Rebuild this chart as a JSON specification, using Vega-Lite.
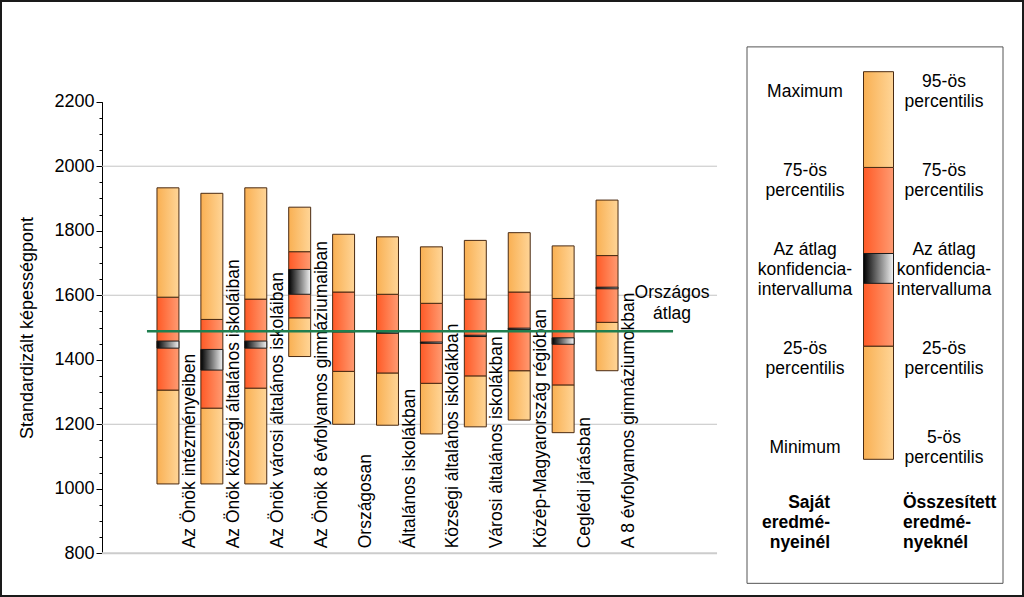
{
"$schema": "https://vega.github.io/schema/vega-lite/v6.json",
"width": 1024, "height": 597, "padding": 0, "autosize": {"type": "none"},
"background": "white",
"config": {"font": "Liberation Sans", "view": {"stroke": "#1a1a1a", "strokeWidth": 4}, "text": {"font": "Liberation Sans", "fontSize": 17.5, "color": "#000000"}},
"datasets": {
 "boxes": [
  {"cat": "Az Önök intézményeiben", "mn": 1015, "q1": 1306, "cl": 1436, "ch": 1458, "q3": 1594, "mx": 1933},
  {"cat": "Az Önök községi általános iskoláiban", "mn": 1015, "q1": 1250, "cl": 1368, "ch": 1432, "q3": 1525, "mx": 1916},
  {"cat": "Az Önök városi általános iskoláiban", "mn": 1015, "q1": 1312, "cl": 1436, "ch": 1458, "q3": 1588, "mx": 1933},
  {"cat": "Az Önök 8 évfolyamos gimnáziumaiban", "mn": 1410, "q1": 1530, "cl": 1603, "ch": 1680, "q3": 1735, "mx": 1873},
  {"cat": "Országosan", "mn": 1200, "q1": 1364, "cl": 1486, "ch": 1490, "q3": 1610, "mx": 1789},
  {"cat": "Általános iskolákban", "mn": 1197, "q1": 1359, "cl": 1482, "ch": 1486, "q3": 1603, "mx": 1781},
  {"cat": "Községi általános iskolákban", "mn": 1170, "q1": 1327, "cl": 1451, "ch": 1455, "q3": 1575, "mx": 1750},
  {"cat": "Városi általános iskolákban", "mn": 1192, "q1": 1350, "cl": 1472, "ch": 1476, "q3": 1588, "mx": 1770},
  {"cat": "Közép-Magyarország régióban", "mn": 1213, "q1": 1366, "cl": 1494, "ch": 1498, "q3": 1610, "mx": 1794},
  {"cat": "Ceglédi járásban", "mn": 1174, "q1": 1322, "cl": 1448, "ch": 1468, "q3": 1590, "mx": 1753},
  {"cat": "A 8 évfolyamos gimnáziumokban", "mn": 1366, "q1": 1516, "cl": 1620, "ch": 1625, "q3": 1723, "mx": 1895}
 ],
 "grid": [{"v": 1200}, {"v": 1600}, {"v": 2000}],
 "base": [{"v": 800}],
 "avg": [{"avg": 1488, "label": "Országos\nátlag"}],
 "legendBox": [{"mn": 0, "q1": 29.2, "cl": 45.4, "ch": 53.1, "q3": 75.3, "mx": 100}],
 "legendText": [
  {"col": "left", "level": 94.8, "t": "Maximum"},
  {"col": "right", "level": 97.4, "t": "95-ös\npercentilis"},
  {"col": "left", "level": 74.4, "t": "75-ös\npercentilis"},
  {"col": "right", "level": 74.4, "t": "75-ös\npercentilis"},
  {"col": "left", "level": 54.0, "t": "Az átlag\nkonfidencia-\nintervalluma"},
  {"col": "right", "level": 54.0, "t": "Az átlag\nkonfidencia-\nintervalluma"},
  {"col": "left", "level": 28.4, "t": "25-ös\npercentilis"},
  {"col": "right", "level": 28.4, "t": "25-ös\npercentilis"},
  {"col": "left", "level": 3.0, "t": "Minimum"},
  {"col": "right", "level": 5.4, "t": "5-ös\npercentilis"}
 ],
 "legendBoldL": [{"col": "left", "level": -11.2, "t": "Saját\neredmé-\nnyeinél"}],
 "legendBoldR": [{"col": "right", "level": -11.2, "t": "Összesített\neredmé-\nnyeknél"}]
},
"layer": [
 {
  "layer": [
   {"data": {"name": "grid"},
    "mark": {"type": "rule", "color": "#c4c4c4", "strokeWidth": 1, "xOffset": -66, "x2Offset": 110},
    "encoding": {
     "x": {"datum": "Az Önök intézményeiben", "type": "nominal", "axis": null,
       "scale": {"type": "band", "domain": ["Az Önök intézményeiben", "Az Önök községi általános iskoláiban", "Az Önök városi általános iskoláiban", "Az Önök 8 évfolyamos gimnáziumaiban", "Országosan", "Általános iskolákban", "Községi általános iskolákban", "Városi általános iskolákban", "Közép-Magyarország régióban", "Ceglédi járásban", "A 8 évfolyamos gimnáziumokban"], "range": [146, 629], "paddingInner": 0.5, "paddingOuter": 0.25}},
     "x2": {"datum": "A 8 évfolyamos gimnáziumokban"},
     "y": {"field": "v", "type": "quantitative",
       "scale": {"domain": [800, 2200], "range": [553.3, 101.7], "nice": false, "zero": false},
       "axis": {"orient": "left", "offset": -102, "values": [850, 900, 950, 1050, 1100, 1150, 1250, 1300, 1350, 1450, 1500, 1550, 1650, 1700, 1750, 1850, 1900, 1950, 2050, 2100, 2150], "labels": false, "domain": false, "ticks": true, "tickSize": 3, "tickColor": "#000000", "grid": false, "title": null}}
    }},
   {"data": {"name": "base"},
    "mark": {"type": "rule", "color": "#cccccc", "strokeWidth": 2, "xOffset": -66, "x2Offset": 110},
    "encoding": {
     "x": {"datum": "Az Önök intézményeiben", "type": "nominal", "axis": null},
     "x2": {"datum": "A 8 évfolyamos gimnáziumokban"},
     "y": {"field": "v", "type": "quantitative", "axis": null}
    }},
   {"data": {"name": "boxes"},
    "mark": {"type": "bar", "stroke": "#4a2a12", "strokeWidth": 1,
      "fill": {"gradient": "linear", "x1": 0, "y1": 0, "x2": 1, "y2": 0, "stops": [{"offset": 0, "color": "#F9B053"}, {"offset": 1, "color": "#FFD597"}]}},
    "encoding": {
     "x": {"field": "cat", "type": "nominal", "axis": null},
     "y": {"field": "mn", "type": "quantitative",
       "axis": {"orient": "left", "offset": -102, "values": [800, 1000, 1200, 1400, 1600, 1800, 2000, 2200], "format": "d", "labelFontSize": 18, "labelColor": "#000000", "labelPadding": 2, "tickSize": 6, "tickColor": "#000000", "domainColor": "#000000", "grid": false, "title": "Standardizált képességpont", "titleFontSize": 18, "titleFontWeight": "normal", "titleColor": "#000000", "titlePadding": 17}},
     "y2": {"field": "q1"}
    }},
   {"data": {"name": "boxes"},
    "mark": {"type": "bar", "stroke": "#4a2a12", "strokeWidth": 1,
      "fill": {"gradient": "linear", "x1": 0, "y1": 0, "x2": 1, "y2": 0, "stops": [{"offset": 0, "color": "#FF5A26"}, {"offset": 1, "color": "#FF9B72"}]}},
    "encoding": {
     "x": {"field": "cat", "type": "nominal", "axis": null},
     "y": {"field": "q1", "type": "quantitative", "axis": null},
     "y2": {"field": "q3"}
    }},
   {"data": {"name": "boxes"},
    "mark": {"type": "bar", "stroke": "#4a2a12", "strokeWidth": 1,
      "fill": {"gradient": "linear", "x1": 0, "y1": 0, "x2": 1, "y2": 0, "stops": [{"offset": 0, "color": "#F9B053"}, {"offset": 1, "color": "#FFD597"}]}},
    "encoding": {
     "x": {"field": "cat", "type": "nominal", "axis": null},
     "y": {"field": "q3", "type": "quantitative", "axis": null},
     "y2": {"field": "mx"}
    }},
   {"data": {"name": "boxes"},
    "mark": {"type": "bar", "stroke": "#1a1a1a", "strokeWidth": 1,
      "fill": {"gradient": "linear", "x1": 0, "y1": 0, "x2": 1, "y2": 0, "stops": [{"offset": 0, "color": "#000000"}, {"offset": 1, "color": "#F2F2F2"}]}},
    "encoding": {
     "x": {"field": "cat", "type": "nominal", "axis": null},
     "y": {"field": "cl", "type": "quantitative", "axis": null},
     "y2": {"field": "ch"}
    }},
   {"data": {"name": "boxes"},
    "mark": {"type": "text", "angle": 270, "align": "left", "baseline": "middle", "dx": 5, "xOffset": 22, "fontSize": 17.5, "color": "#000000"},
    "encoding": {
     "x": {"field": "cat", "type": "nominal", "axis": null},
     "y": {"datum": 800, "type": "quantitative", "axis": null},
     "text": {"field": "cat"}
    }},
   {"data": {"name": "avg"},
    "mark": {"type": "rule", "color": "#1f7f4f", "strokeWidth": 2.5, "xOffset": -21, "x2Offset": 66},
    "encoding": {
     "x": {"datum": "Az Önök intézményeiben", "type": "nominal", "axis": null},
     "x2": {"datum": "A 8 évfolyamos gimnáziumokban"},
     "y": {"field": "avg", "type": "quantitative", "axis": null}
    }},
   {"data": {"name": "avg"},
    "mark": {"type": "text", "align": "center", "baseline": "middle", "lineBreak": "\n", "lineHeight": 21, "xOffset": 65, "yOffset": -38, "fontSize": 17.5, "color": "#000000"},
    "encoding": {
     "x": {"datum": "A 8 évfolyamos gimnáziumokban", "type": "nominal", "axis": null},
     "y": {"field": "avg", "type": "quantitative", "axis": null},
     "text": {"field": "label"}
    }}
  ],
  "resolve": {"axis": {"y": "independent"}}
 },
 {
  "layer": [
   {"data": {"name": "legendBox"},
    "mark": {"type": "rect", "fill": "white", "stroke": "#555555", "strokeWidth": 1, "xOffset": -58, "x2Offset": 59},
    "encoding": {
     "x": {"datum": "left", "type": "nominal", "axis": null, "scale": {"type": "point", "domain": ["left", "bar", "right"], "range": [805, 944], "padding": 0}},
     "x2": {"datum": "right"},
     "y": {"datum": -32, "type": "quantitative", "axis": null, "scale": {"domain": [0, 100], "range": [459.3, 71.7], "nice": false, "zero": false}},
     "y2": {"datum": 106.4}
    }},
   {"data": {"name": "legendBox"},
    "mark": {"type": "bar", "width": 30, "xOffset": 4, "stroke": "#4a2a12", "strokeWidth": 1,
      "fill": {"gradient": "linear", "x1": 0, "y1": 0, "x2": 1, "y2": 0, "stops": [{"offset": 0, "color": "#F9B053"}, {"offset": 1, "color": "#FFD597"}]}},
    "encoding": {"x": {"datum": "bar", "type": "nominal", "axis": null}, "y": {"field": "mn", "type": "quantitative", "axis": null}, "y2": {"field": "q1"}}},
   {"data": {"name": "legendBox"},
    "mark": {"type": "bar", "width": 30, "xOffset": 4, "stroke": "#4a2a12", "strokeWidth": 1,
      "fill": {"gradient": "linear", "x1": 0, "y1": 0, "x2": 1, "y2": 0, "stops": [{"offset": 0, "color": "#FF5A26"}, {"offset": 1, "color": "#FF9B72"}]}},
    "encoding": {"x": {"datum": "bar", "type": "nominal", "axis": null}, "y": {"field": "q1", "type": "quantitative", "axis": null}, "y2": {"field": "q3"}}},
   {"data": {"name": "legendBox"},
    "mark": {"type": "bar", "width": 30, "xOffset": 4, "stroke": "#4a2a12", "strokeWidth": 1,
      "fill": {"gradient": "linear", "x1": 0, "y1": 0, "x2": 1, "y2": 0, "stops": [{"offset": 0, "color": "#F9B053"}, {"offset": 1, "color": "#FFD597"}]}},
    "encoding": {"x": {"datum": "bar", "type": "nominal", "axis": null}, "y": {"field": "q3", "type": "quantitative", "axis": null}, "y2": {"field": "mx"}}},
   {"data": {"name": "legendBox"},
    "mark": {"type": "bar", "width": 30, "xOffset": 4, "stroke": "#1a1a1a", "strokeWidth": 1,
      "fill": {"gradient": "linear", "x1": 0, "y1": 0, "x2": 1, "y2": 0, "stops": [{"offset": 0, "color": "#000000"}, {"offset": 1, "color": "#F2F2F2"}]}},
    "encoding": {"x": {"datum": "bar", "type": "nominal", "axis": null}, "y": {"field": "cl", "type": "quantitative", "axis": null}, "y2": {"field": "ch"}}},
   {"data": {"name": "legendText"},
    "mark": {"type": "text", "align": "center", "baseline": "middle", "lineBreak": "\n", "lineHeight": 20, "fontSize": 17.5, "color": "#000000"},
    "encoding": {"x": {"field": "col", "type": "nominal", "axis": null}, "y": {"field": "level", "type": "quantitative", "axis": null}, "text": {"field": "t"}}},
   {"data": {"name": "legendBoldL"},
    "mark": {"type": "text", "align": "right", "baseline": "middle", "lineBreak": "\n", "lineHeight": 20, "fontSize": 17.5, "fontWeight": "bold", "xOffset": 25, "color": "#000000"},
    "encoding": {"x": {"field": "col", "type": "nominal", "axis": null}, "y": {"field": "level", "type": "quantitative", "axis": null}, "text": {"field": "t"}}},
   {"data": {"name": "legendBoldR"},
    "mark": {"type": "text", "align": "left", "baseline": "middle", "lineBreak": "\n", "lineHeight": 20, "fontSize": 17.5, "fontWeight": "bold", "xOffset": -41, "color": "#000000"},
    "encoding": {"x": {"field": "col", "type": "nominal", "axis": null}, "y": {"field": "level", "type": "quantitative", "axis": null}, "text": {"field": "t"}}}
  ]
 }
],
"resolve": {"scale": {"x": "independent", "y": "independent"}}
}
